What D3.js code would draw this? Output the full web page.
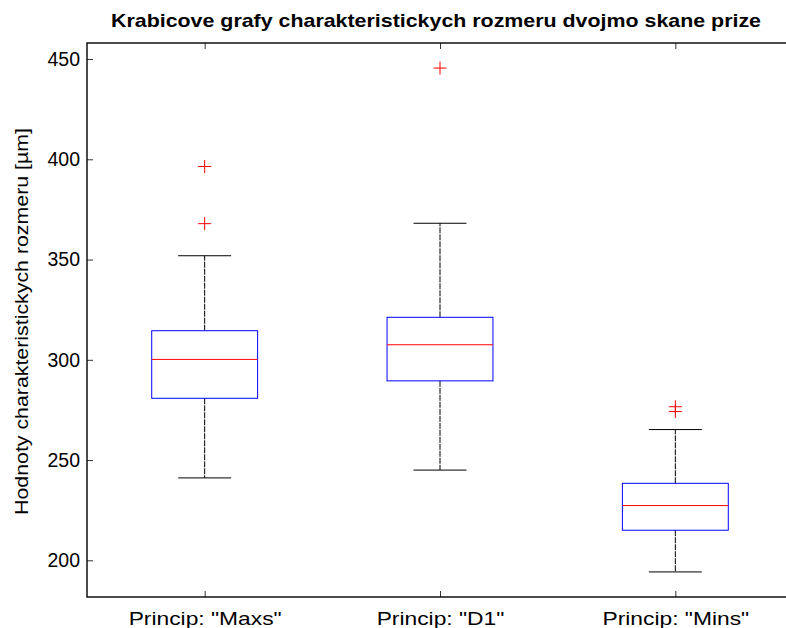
<!DOCTYPE html>
<html>
<head>
<meta charset="utf-8">
<script src="https://cdn.jsdelivr.net/npm/d3@7"></script>
<style>
  body { margin: 0; background: #fff; }
  svg { display: block; font-family: "Liberation Sans", Arial, sans-serif; }
</style>
</head>
<body>
<div id="chart"></div>
<script>
// data
var categories = ['Princip: "Maxs"', 'Princip: "D1"', 'Princip: "Mins"'];
var whiskerLow  = [241.1, 245.0, 194.2];
var q1          = [280.8, 289.5, 215.0];
var median      = [300.2, 307.5, 227.3];
var q3          = [314.5, 321.2, 238.4];
var whiskerHigh = [351.9, 368.1, 265.2];
var outliers    = [[396.4, 367.9], [445.5], [276.6, 274.2]];
var yTicks = [200, 250, 300, 350, 400, 450];

// set the dimensions and margins of the graph
var margin = {top: 43, right: -7, bottom: 31, left: 87},
    width = 786 - margin.left - margin.right,
    height = 628 - margin.top - margin.bottom;

var svg = d3.select("#chart")
  .append("svg")
  .attr("width", 786)
  .attr("height", 628)
  .append("g")
  .attr("transform", "translate(" + margin.left + "," + margin.top + ")");

// scales
var x = d3.scaleLinear().domain([0.5, 3.5]).range([0, width]);
var y = d3.scaleLinear().domain([181.7, 458]).range([height, 0]);

var boxW = 0.45, capW = 0.225;

// stretch text a bit wider, the reference glyphs are wide
function stretch(sel, k) {
  sel.each(function() {
    var w = this.getComputedTextLength();
    d3.select(this).attr("textLength", w * k).attr("lengthAdjust", "spacingAndGlyphs");
  });
}

// axes, ticks pointing inside like matlab
var yLeft = svg.append("g")
  .call(d3.axisLeft(y).tickValues(yTicks).tickSizeInner(-6).tickSizeOuter(0).tickPadding(7));
var yRight = svg.append("g")
  .attr("transform", "translate(" + width + ",0)")
  .call(d3.axisRight(y).tickValues(yTicks).tickSizeInner(-6).tickSizeOuter(0).tickFormat(""));
var xBottom = svg.append("g")
  .attr("transform", "translate(0," + height + ")")
  .call(d3.axisBottom(x).tickValues([1, 2, 3]).tickSizeInner(-6).tickSizeOuter(0)
    .tickFormat(function(d) { return categories[d - 1]; }));
var xTop = svg.append("g")
  .call(d3.axisTop(x).tickValues([1, 2, 3]).tickSizeInner(-6).tickSizeOuter(0).tickFormat(""));

svg.selectAll(".domain").remove();
svg.selectAll(".tick line").attr("stroke", "#333");
svg.selectAll(".tick text").attr("font-size", "19.5px").attr("fill", "#000")
  .attr("font-family", "'Liberation Sans', Arial, sans-serif");
xBottom.selectAll(".tick text").attr("dy", null).attr("y", 28).attr("font-size", "19px");
stretch(xBottom.selectAll(".tick text"), 1.2);

// frame
svg.append("rect")
  .attr("x", 0).attr("y", 0)
  .attr("width", width).attr("height", height)
  .attr("fill", "none")
  .attr("stroke", "#111")
  .attr("stroke-width", 1.5);

// boxes
var idx = d3.range(categories.length);
var g = svg.append("g");

// whiskers
g.selectAll(".whU").data(idx).enter().append("line")
  .attr("x1", function(i) { return x(i + 1); }).attr("x2", function(i) { return x(i + 1); })
  .attr("y1", function(i) { return y(q3[i]); }).attr("y2", function(i) { return y(whiskerHigh[i]); })
  .attr("stroke", "#000").attr("stroke-width", 1).attr("stroke-dasharray", "6,1");
g.selectAll(".whL").data(idx).enter().append("line")
  .attr("x1", function(i) { return x(i + 1); }).attr("x2", function(i) { return x(i + 1); })
  .attr("y1", function(i) { return y(q1[i]); }).attr("y2", function(i) { return y(whiskerLow[i]); })
  .attr("stroke", "#000").attr("stroke-width", 1).attr("stroke-dasharray", "6,1");

// caps
g.selectAll(".capU").data(idx).enter().append("line")
  .attr("x1", function(i) { return x(i + 1 - capW / 2); }).attr("x2", function(i) { return x(i + 1 + capW / 2); })
  .attr("y1", function(i) { return y(whiskerHigh[i]); }).attr("y2", function(i) { return y(whiskerHigh[i]); })
  .attr("stroke", "#000").attr("stroke-width", 1);
g.selectAll(".capL").data(idx).enter().append("line")
  .attr("x1", function(i) { return x(i + 1 - capW / 2); }).attr("x2", function(i) { return x(i + 1 + capW / 2); })
  .attr("y1", function(i) { return y(whiskerLow[i]); }).attr("y2", function(i) { return y(whiskerLow[i]); })
  .attr("stroke", "#000").attr("stroke-width", 1);

// box
g.selectAll(".box").data(idx).enter().append("rect")
  .attr("x", function(i) { return x(i + 1 - boxW / 2); })
  .attr("width", function(i) { return x(i + 1 + boxW / 2) - x(i + 1 - boxW / 2); })
  .attr("y", function(i) { return y(q3[i]); })
  .attr("height", function(i) { return y(q1[i]) - y(q3[i]); })
  .attr("fill", "none").attr("stroke", "#0000ff").attr("stroke-width", 1);

// median
g.selectAll(".med").data(idx).enter().append("line")
  .attr("x1", function(i) { return x(i + 1 - boxW / 2); }).attr("x2", function(i) { return x(i + 1 + boxW / 2); })
  .attr("y1", function(i) { return y(median[i]); }).attr("y2", function(i) { return y(median[i]); })
  .attr("stroke", "#ff0000").attr("stroke-width", 1);

// outliers as red plus signs
var pts = [];
outliers.forEach(function(arr, i) { arr.forEach(function(v) { pts.push({i: i, v: v}); }); });
g.selectAll(".out").data(pts).enter().append("path")
  .attr("transform", function(d) { return "translate(" + x(d.i + 1) + "," + y(d.v) + ")"; })
  .attr("d", "M-6.5,0H6.5M0,-6.5V6.5")
  .attr("stroke", "#ff0000").attr("stroke-width", 1).attr("fill", "none");

// title
var title = svg.append("text")
  .attr("x", 436 - margin.left)
  .attr("y", 27 - margin.top)
  .attr("text-anchor", "middle")
  .attr("font-size", "19px")
  .attr("font-weight", "bold")
  .text("Krabicove grafy charakteristickych rozmeru dvojmo skane prize");
title.attr("textLength", 650).attr("lengthAdjust", "spacingAndGlyphs");

// y label
var ylab = svg.append("text")
  .attr("transform", "translate(" + (28 - margin.left) + "," + (321.5 - margin.top) + ") rotate(-90)")
  .attr("text-anchor", "middle")
  .attr("font-size", "19px")
  .text("Hodnoty charakteristickych rozmeru [\u00b5m]");
ylab.attr("textLength", 387).attr("lengthAdjust", "spacingAndGlyphs");
</script>
</body>
</html>
